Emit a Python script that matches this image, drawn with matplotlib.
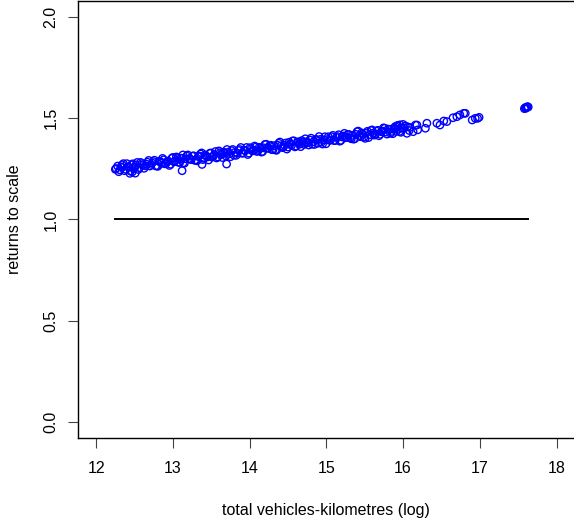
import matplotlib
matplotlib.use('Agg')
import matplotlib.pyplot as plt

plt.rcParams['font.family'] = ['Liberation Sans', 'DejaVu Sans']

# main cloud: total vehicles-km (log) vs returns to scale
x_main = [12.28, 12.31, 12.34, 12.37, 12.40, 12.43, 12.46, 12.49, 12.52, 12.55,
          12.58, 12.61, 12.64, 12.67, 12.70, 12.73, 12.76, 12.79, 12.82, 12.85,
          12.88, 12.91, 12.94, 12.97, 13.00, 13.03, 13.06, 13.09, 13.12, 13.15,
          13.18, 13.21, 13.24, 13.27, 13.30, 13.33, 13.36, 13.39, 13.42, 13.45,
          13.48, 13.51, 13.54, 13.57, 13.60, 13.63, 13.66, 13.69, 13.72, 13.75,
          13.78, 13.81, 13.84, 13.87, 13.90, 13.93, 13.96, 13.99, 14.02, 14.05,
          14.08, 14.11, 14.14, 14.17, 14.20, 14.23, 14.26, 14.29, 14.32, 14.35,
          14.38, 14.41, 14.44, 14.47, 14.50, 14.53, 14.56, 14.59, 14.62, 14.65,
          14.68, 14.71, 14.74, 14.77, 14.80, 14.83, 14.86, 14.89, 14.92, 14.95,
          14.98, 15.01, 15.04, 15.07, 15.10, 15.13, 15.16, 15.19, 15.22, 15.25,
          15.28, 15.31, 15.34, 15.37, 15.40, 15.43, 15.46, 15.49, 15.52, 15.55,
          15.58, 15.61, 15.64, 15.67, 15.70, 15.73, 15.76, 15.79, 15.82, 15.85,
          15.88, 15.91, 15.94, 15.97]
y_main = [1.264, 1.245, 1.258, 1.241, 1.276, 1.258, 1.270, 1.251, 1.270, 1.247,
          1.282, 1.269, 1.265, 1.283, 1.264, 1.279, 1.293, 1.264, 1.287, 1.278,
          1.295, 1.277, 1.289, 1.273, 1.307, 1.289, 1.302, 1.282, 1.302, 1.278,
          1.314, 1.301, 1.296, 1.315, 1.295, 1.311, 1.324, 1.296, 1.319, 1.309,
          1.327, 1.308, 1.321, 1.304, 1.339, 1.321, 1.333, 1.314, 1.333, 1.310,
          1.346, 1.332, 1.328, 1.346, 1.327, 1.342, 1.356, 1.328, 1.350, 1.341,
          1.358, 1.340, 1.352, 1.336, 1.371, 1.352, 1.365, 1.345, 1.365, 1.342,
          1.377, 1.364, 1.359, 1.378, 1.358, 1.374, 1.388, 1.359, 1.382, 1.372,
          1.390, 1.371, 1.384, 1.368, 1.402, 1.384, 1.396, 1.377, 1.396, 1.373,
          1.409, 1.395, 1.391, 1.409, 1.390, 1.406, 1.419, 1.391, 1.413, 1.404,
          1.421, 1.403, 1.416, 1.399, 1.434, 1.415, 1.428, 1.408, 1.428, 1.405,
          1.440, 1.427, 1.422, 1.441, 1.421, 1.437, 1.451, 1.422, 1.445, 1.435,
          1.453, 1.435, 1.447, 1.431]

# second pass through the cloud, in between the first
x_main2 = [12.295, 12.325, 12.355, 12.385, 12.415, 12.445, 12.475, 12.505, 12.535, 12.565,
           12.595, 12.625, 12.655, 12.685, 12.715, 12.745, 12.775, 12.805, 12.835, 12.865,
           12.895, 12.925, 12.955, 12.985, 13.015, 13.045, 13.075, 13.105, 13.135, 13.165,
           13.195, 13.225, 13.255, 13.285, 13.315, 13.345, 13.375, 13.405, 13.435, 13.465,
           13.495, 13.525, 13.555, 13.585, 13.615, 13.645, 13.675, 13.705, 13.735, 13.765,
           13.795, 13.825, 13.855, 13.885, 13.915, 13.945, 13.975, 14.005, 14.035, 14.065,
           14.095, 14.125, 14.155, 14.185, 14.215, 14.245, 14.275, 14.305, 14.335, 14.365,
           14.395, 14.425, 14.455, 14.485, 14.515, 14.545, 14.575, 14.605, 14.635, 14.665,
           14.695, 14.725, 14.755, 14.785, 14.815, 14.845, 14.875, 14.905, 14.935, 14.965,
           14.995, 15.025, 15.055, 15.085, 15.115, 15.145, 15.175, 15.205, 15.235, 15.265,
           15.295, 15.325, 15.355, 15.385, 15.415, 15.445, 15.475, 15.505, 15.535, 15.565,
           15.595, 15.625, 15.655, 15.685, 15.715, 15.745, 15.775, 15.805, 15.835, 15.865,
           15.895, 15.925, 15.955]
y_main2 = [1.236, 1.260, 1.276, 1.248, 1.260, 1.240, 1.275, 1.258, 1.282, 1.256,
           1.276, 1.253, 1.273, 1.292, 1.272, 1.286, 1.265, 1.263, 1.287, 1.302,
           1.275, 1.287, 1.267, 1.302, 1.285, 1.309, 1.282, 1.303, 1.280, 1.300,
           1.319, 1.298, 1.313, 1.292, 1.290, 1.314, 1.329, 1.302, 1.313, 1.294,
           1.329, 1.312, 1.336, 1.309, 1.330, 1.306, 1.327, 1.346, 1.325, 1.340,
           1.318, 1.317, 1.341, 1.356, 1.329, 1.340, 1.321, 1.355, 1.339, 1.363,
           1.336, 1.357, 1.333, 1.354, 1.372, 1.352, 1.367, 1.345, 1.344, 1.367,
           1.383, 1.355, 1.367, 1.348, 1.382, 1.366, 1.389, 1.363, 1.384, 1.360,
           1.381, 1.399, 1.379, 1.393, 1.372, 1.371, 1.394, 1.410, 1.382, 1.394,
           1.374, 1.409, 1.393, 1.416, 1.390, 1.410, 1.387, 1.408, 1.426, 1.406,
           1.420, 1.399, 1.397, 1.421, 1.437, 1.409, 1.421, 1.401, 1.436, 1.419,
           1.443, 1.417, 1.437, 1.414, 1.434, 1.453, 1.432, 1.447, 1.426, 1.424,
           1.448, 1.463, 1.436]

# stragglers, upper tail and the far right cluster
x_extra = [12.25, 12.26, 12.34, 12.44, 12.47, 12.51, 13.12, 13.13, 13.38, 13.70,
           15.90, 15.93, 15.96, 15.98, 16.00, 16.01, 16.03, 16.05, 16.06, 16.08,
           16.09, 16.13, 16.16, 16.18, 16.19, 16.29, 16.31, 16.44, 16.48, 16.53,
           16.57, 16.65, 16.70, 16.74, 16.79, 16.81, 16.90, 16.94, 16.97, 16.99,
           17.58, 17.59, 17.60, 17.61, 17.62, 17.63]
y_extra = [1.248, 1.252, 1.270, 1.228, 1.235, 1.229, 1.241, 1.319, 1.272, 1.274,
           1.460, 1.465, 1.468, 1.451, 1.470, 1.451, 1.462, 1.426, 1.458, 1.440,
           1.455, 1.434, 1.467, 1.467, 1.443, 1.451, 1.476, 1.476, 1.467, 1.487,
           1.484, 1.503, 1.508, 1.517, 1.525, 1.525, 1.492, 1.500, 1.500, 1.505,
           1.548, 1.553, 1.550, 1.555, 1.558, 1.556]

ref_level = 1.0
x_ticks = [12, 13, 14, 15, 16, 17, 18]
y_ticks = [0.0, 0.5, 1.0, 1.5, 2.0]

fig = plt.figure(figsize=(5.74, 5.21), dpi=100)
ax = fig.add_axes([0.1354, 0.1597, 0.8664, 0.8382])

xs = x_main + x_main2 + x_extra
ys = y_main + y_main2 + y_extra
ax.scatter(xs, ys, s=28, facecolors='none', edgecolors='#0000ff', linewidths=1.0, zorder=3)
ax.plot([min(xs), max(xs)], [ref_level, ref_level], color='black', lw=1.4)

ax.set_xlim(11.76, 18.24)
ax.set_ylim(-0.08, 2.08)
ax.set_xticks(x_ticks)
ax.set_xticklabels([str(t) for t in x_ticks])
ax.set_yticks(y_ticks)
ax.set_yticklabels(['%.1f' % t for t in y_ticks], rotation=90, va='center')
ax.tick_params(length=7, width=0.8, labelsize=11.5, color='#444444')
ax.tick_params(axis='x', pad=10)
ax.tick_params(axis='y', pad=7)
for sp in ax.spines.values():
    sp.set_linewidth(1.0)

ax.set_xlabel('total vehicles-kilometres (log)', fontsize=11.5, va='center')
ax.xaxis.set_label_coords(0.5, -0.1656)
ax.set_ylabel('returns to scale', fontsize=11.5, va='center')
ax.yaxis.set_label_coords(-0.128, 0.5)

fig.savefig('out.png', dpi=100)
